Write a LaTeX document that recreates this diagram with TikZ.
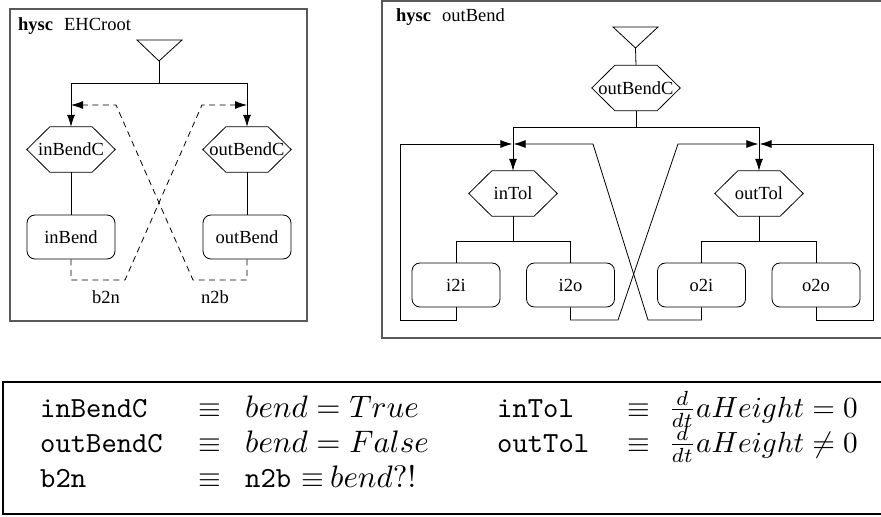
\documentclass[tikz,border=0pt]{standalone}
\usepackage[no-math]{fontspec}
\setmainfont{Liberation Serif}
\usetikzlibrary{arrows.meta}

% font for the chart labels
\newcommand\chartfont{\fontsize{18.5bp}{22bp}\selectfont}
% definitions are set at 10pt and enlarged
\newcommand\bigdef[1]{\scalebox{2.93}{\normalsize #1}}
\newcommand\bigmath[1]{\scalebox{3.12}{\normalsize #1}}

% hexagonal outline of a condition node (pointed left and right)
\newcommand\hexframe[1]{%
  \draw[ln] (#1.west) -- ([xshift=23bp]#1.north west) -- ([xshift=-23bp]#1.north east)
    -- (#1.east) -- ([xshift=-23bp]#1.south east) -- ([xshift=23bp]#1.south west) -- cycle;}

\begin{document}
\begin{tikzpicture}[x=1bp,y=-1bp,
  ln/.style={line width=0.8bp, black},
  panel/.style={draw=black!65, line width=1.2bp},
  cond/.style={minimum width=88bp, minimum height=45bp, inner sep=0pt, font=\chartfont},
  state/.style={draw, ln, rounded corners=8bp, minimum width=88bp, minimum height=44bp, inner sep=0pt, font=\chartfont},
  arr/.style={-{Latex[length=12bp,width=8bp]}},
  dsh/.style={dash pattern=on 6bp off 4.5bp},
  lbl/.style={font=\chartfont, inner sep=0pt},
  defn/.style={inner sep=0pt, anchor=base west}]

\useasboundingbox (0,0) rectangle (881,517);
\clip (0,0) rectangle (881,517);

% ---------------- left chart: EHCroot ----------------
\draw[panel] (10,9) rectangle (307,321);
\node[lbl, anchor=base west] (tL) at (18,31) {\textbf{hysc}\hspace{11bp}EHCroot};
\draw[ln] (137,40) -- (182,40) -- (159,61) -- cycle;
\coordinate (rootL) at (159,61);
\coordinate (forkL) at (159,83);

\node[cond] (inBendC)  at (71,149.5)  {inBendC};
\node[cond] (outBendC) at (247,149.5) {outBendC};
\hexframe{inBendC}
\hexframe{outBendC}
\node[state] (inBend)  at (71,237)  {inBend};
\node[state] (outBend) at (247,237) {outBend};

\draw[ln] (rootL) -- (forkL);
\draw[ln, arr] (forkL) -| (inBendC.north);
\draw[ln, arr] (forkL) -| (outBendC.north);
\draw[ln] (inBendC.south) -- (inBend.north);
\draw[ln] (outBendC.south) -- (outBend.north);

% transitions b2n and n2b
\draw[ln, dsh, arr] (inBend.south) -- (71,280) -- (125,280) -- (202,105) -- (outBendC.north |- 0,105);
\draw[ln, dsh, arr] (outBend.south) -- (247,280) -- (193,280) -- (116,105) -- (inBendC.north |- 0,105);
\node[lbl] (b2n) at (106,297) {b2n};
\node[lbl] (n2b) at (215,297) {n2b};

% ---------------- right chart: outBend ----------------
\draw[panel] (382,1) rectangle (900,338);
\node[lbl, anchor=base west] (tR) at (396,22) {\textbf{hysc}\hspace{11bp}outBend};
\draw[ln] (613,27) -- (658,27) -- (635.5,48) -- cycle;
\coordinate (rootR) at (635.5,48);

\node[cond] (outBendC2) at (636,88) {outBendC};
\hexframe{outBendC2}
\node[cond] (inTol)  at (513,193.5) {inTol};
\node[cond] (outTol) at (759,193.5) {outTol};
\hexframe{inTol}
\hexframe{outTol}
\node[state] (i2i) at (456,285)   {i2i};
\node[state] (i2o) at (570.5,285) {i2o};
\node[state] (o2i) at (701.5,285) {o2i};
\node[state] (o2o) at (816,285)   {o2o};

\coordinate (forkR) at (636,127);
\coordinate (forkIn) at (513,241);
\coordinate (forkOut) at (759,241);

\draw[ln] (rootR) -- (outBendC2.north);
\draw[ln] (outBendC2.south) -- (forkR);
\draw[ln, arr] (forkR) -| (inTol.north);
\draw[ln, arr] (forkR) -| (outTol.north);
\draw[ln] (inTol.south) -- (forkIn);
\draw[ln] (forkIn) -| (i2i.north);
\draw[ln] (forkIn) -| (i2o.north);
\draw[ln] (outTol.south) -- (forkOut);
\draw[ln] (forkOut) -| (o2i.north);
\draw[ln] (forkOut) -| (o2o.north);

% feedback transitions back to the tolerance conditions
\draw[ln, arr, shorten >=0.6bp] (i2i.south) -- (456,320) -- (400,320) -- (400,144) -- (inTol.north |- 0,144);
\draw[ln, arr, shorten >=0.6bp] (o2i.south) -- (701.5,320) -- (648,320) -- (593,144) -- (inTol.north |- 0,144);
\draw[ln, arr, shorten >=0.6bp] (i2o.south) -- (570.5,320) -- (618,320) -- (678,144) -- (outTol.north |- 0,144);
\draw[ln, arr, shorten >=0.6bp] (o2o.south) -- (816,320) -- (873,320) -- (873,144) -- (outTol.north |- 0,144);

% ---------------- definitions ----------------
\draw[line width=2.5bp] (3,382) rectangle (900,514);
\node[defn] (d1a) at (40,417)  {\bigdef{\texttt{inBendC}}};
\node[defn] (d1b) at (198,417) {\bigdef{$\equiv$}};
\node[defn] (d1c) at (245,417) {\bigmath{$bend = True$}};
\node[defn] (d1d) at (497,417) {\bigdef{\texttt{inTol}}};
\node[defn] (d1e) at (627,417) {\bigdef{$\equiv$}};
\node[defn] (d1f) at (668,417) {\bigdef{$\frac{d}{dt}aHeight = 0$}};
\node[defn] (d2a) at (40,452)  {\bigdef{\texttt{outBendC}}};
\node[defn] (d2b) at (198,452) {\bigdef{$\equiv$}};
\node[defn] (d2c) at (245,452) {\bigmath{$bend = False$}};
\node[defn] (d2d) at (497,452) {\bigdef{\texttt{outTol}}};
\node[defn] (d2e) at (627,452) {\bigdef{$\equiv$}};
\node[defn] (d2f) at (668,452) {\bigdef{$\frac{d}{dt}aHeight \neq 0$}};
\node[defn] (d3a) at (40,487)  {\bigdef{\texttt{b2n}}};
\node[defn] (d3b) at (198,487) {\bigdef{$\equiv$}};
\node[defn] (d3c) at (245,487) {\bigdef{\texttt{n2b}}};
\node[defn] (d3d) at (301,487) {\bigdef{$\equiv$}};
\node[defn] (d3e) at (330,487) {\bigmath{$bend?!$}};
\end{tikzpicture}
\end{document}
